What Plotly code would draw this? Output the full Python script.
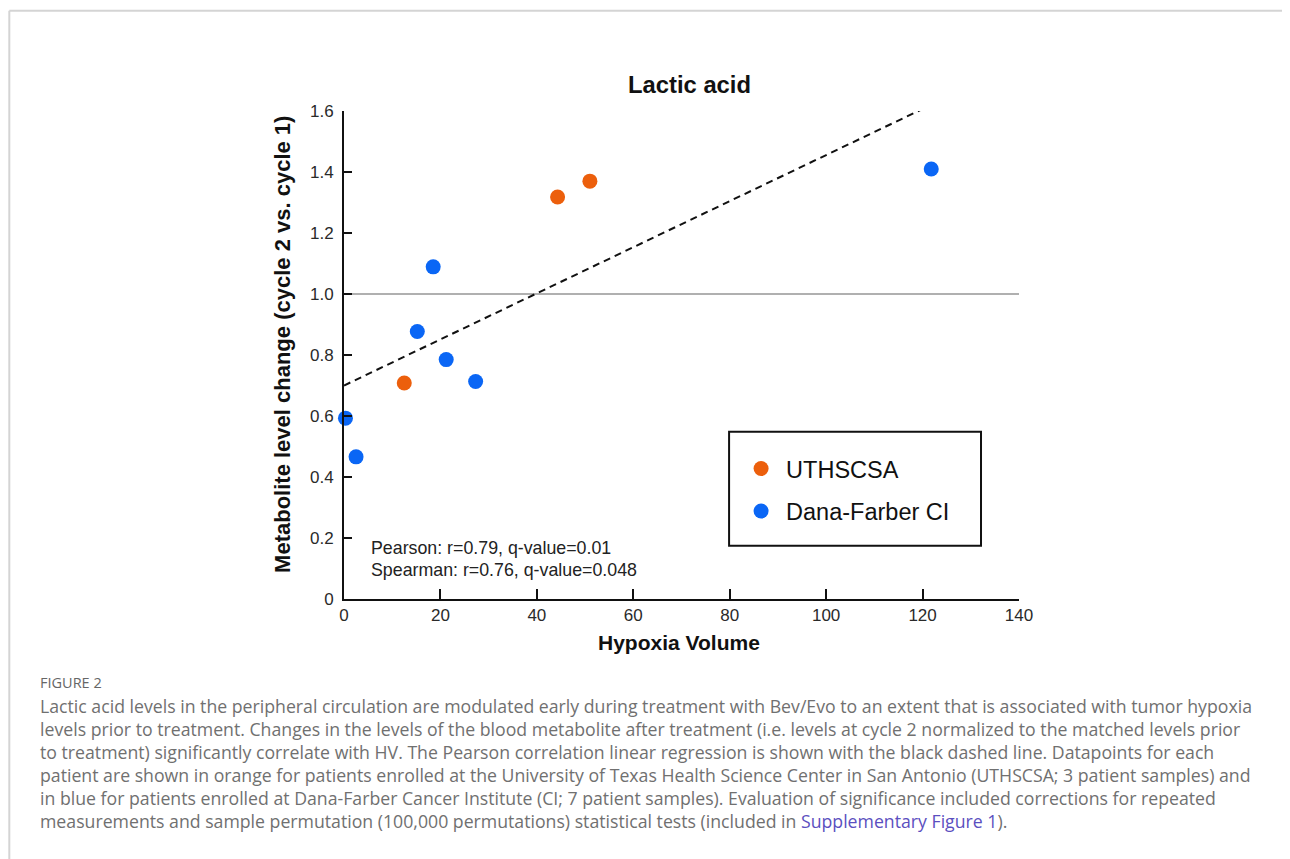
import plotly.graph_objects as go

# ---------------- data ----------------
uth_x = [12.5, 44.3, 51.0]
uth_y = [0.708, 1.318, 1.370]
dfci_x = [0.3, 2.5, 15.2, 18.5, 21.2, 27.3, 121.8]
dfci_y = [0.593, 0.466, 0.877, 1.089, 0.785, 0.713, 1.410]
fit_x = [0, 121.5]
fit_y = [0.70, 1.618]
ref_x = [0, 140]
ref_y = [1.0, 1.0]
x_ticks = [0, 20, 40, 60, 80, 100, 120, 140]
y_ticks = [0, 0.2, 0.4, 0.6, 0.8, 1.0, 1.2, 1.4, 1.6]
y_ticktext = ["0", "0.2", "0.4", "0.6", "0.8", "1.0", "1.2", "1.4", "1.6"]
caption_lines = [
    "Lactic acid levels in the peripheral circulation are modulated early during treatment with Bev/Evo to an extent that is associated with tumor hypoxia",
    "levels prior to treatment. Changes in the levels of the blood metabolite after treatment (i.e. levels at cycle 2 normalized to the matched levels prior",
    "to treatment) significantly correlate with HV. The Pearson correlation linear regression is shown with the black dashed line. Datapoints for each",
    "patient are shown in orange for patients enrolled at the University of Texas Health Science Center in San Antonio (UTHSCSA; 3 patient samples) and",
    "in blue for patients enrolled at Dana-Farber Cancer Institute (CI; 7 patient samples). Evaluation of significance included corrections for repeated",
    "measurements and sample permutation (100,000 permutations) statistical tests (included in <span style='color:#5b4fc0'>Supplementary Figure 1</span>).",
]

# page offset of the plot div (default body margin)
OFF = 8
W, H = 1290 - OFF, 859 - OFF
L, R, T, B = 343.8 - OFF, 1019.0 - OFF, 111.3 - OFF, 599.3 - OFF

def px(x):
    return (x - OFF - L) / (R - L)

def py(y):
    return (B - (y - OFF)) / (B - T)

FONT = "Arial, Liberation Sans, sans-serif"
CAP_FONT = "Open Sans, Lato, sans-serif"
ORANGE = "#ec5f0c"
BLUE = "#0a66f5"

fig = go.Figure()
fig.add_trace(go.Scatter(x=ref_x, y=ref_y, mode="lines",
                         line=dict(color="#b0b0b0", width=2),
                         showlegend=False, hoverinfo="skip"))
fig.add_trace(go.Scatter(x=fit_x, y=fit_y, mode="lines",
                         line=dict(color="#111", width=2, dash="7px,5px"),
                         showlegend=False, hoverinfo="skip"))
fig.add_trace(go.Scatter(x=uth_x, y=uth_y, mode="markers", name="UTHSCSA",
                         marker=dict(color=ORANGE, size=15), cliponaxis=False,
                         legendgroup="a"))
fig.add_trace(go.Scatter(x=dfci_x, y=dfci_y, mode="markers", name="Dana-Farber CI",
                         marker=dict(color=BLUE, size=15), cliponaxis=False,
                         legendgroup="b"))

fig.update_xaxes(range=[0, 140], tickvals=x_ticks, showgrid=False, zeroline=False,
                 showline=True, linecolor="#111", linewidth=2,
                 ticks="inside", ticklen=10, tickwidth=2, tickcolor="#111",
                 tickfont=dict(family=FONT, size=17, color="#2a2a2a"))
fig.update_yaxes(range=[0, 1.6], tickvals=y_ticks, ticktext=y_ticktext,
                 showgrid=False, zeroline=False,
                 showline=True, linecolor="#111", linewidth=2,
                 ticks="inside", ticklen=8, tickwidth=2, tickcolor="#111",
                 ticklabelstandoff=5,
                 tickfont=dict(family=FONT, size=17, color="#2a2a2a"))

ann = [
    dict(x=px(689), y=py(85), text="<b>Lactic acid</b>", font=dict(family=FONT, size=23.8, color="#111")),
    dict(x=px(679), y=py(643), text="<b>Hypoxia Volume</b>", font=dict(family=FONT, size=21, color="#111")),
    dict(x=px(282), y=py(345), text="<b>Metabolite level change (cycle 2 vs. cycle 1)</b>", textangle=-90,
         font=dict(family=FONT, size=22, color="#111")),
    dict(x=px(369), y=py(548), xanchor="left", text="Pearson: r=0.79, q-value=0.01",
         font=dict(family=FONT, size=17.8, color="#222")),
    dict(x=px(369), y=py(570), xanchor="left", text="Spearman: r=0.76, q-value=0.048",
         font=dict(family=FONT, size=17.8, color="#222")),
    dict(x=px(38), y=py(683), xanchor="left", text="FIGURE 2",
         font=dict(family=CAP_FONT, size=14.5, color="#666")),
]
for i, line in enumerate(caption_lines):
    ann.append(dict(x=px(38), y=py(706 + i * 23), xanchor="left", text=line,
                    font=dict(family=CAP_FONT, size=17.7, color="#707070")))
for a in ann:
    a.setdefault("xanchor", "center")
    a.update(xref="paper", yref="paper", yanchor="middle", showarrow=False)

shapes = [
    dict(type="rect", xref="paper", yref="paper", x0=px(729), x1=px(981), y0=py(546), y1=py(432),
         line=dict(color="#111", width=2), fillcolor="rgba(0,0,0,0)"),
    dict(type="line", xref="paper", yref="paper", x0=px(9), x1=px(1300), y0=py(11), y1=py(11),
         line=dict(color="#d4d4d4", width=2)),
    dict(type="line", xref="paper", yref="paper", x0=px(9), x1=px(9), y0=py(11), y1=py(870),
         line=dict(color="#d4d4d4", width=2)),
]

fig.update_layout(
    width=W, height=H,
    margin=dict(l=L, r=W - R, t=T, b=H - B, autoexpand=False),
    paper_bgcolor="white", plot_bgcolor="white",
    annotations=ann, shapes=shapes,
    legend=dict(x=px(736), y=py(447), xanchor="left", yanchor="top",
                font=dict(family=FONT, size=23.5, color="#111"),
                itemwidth=40,
                bgcolor="rgba(0,0,0,0)", borderwidth=0, tracegroupgap=9),
    showlegend=True,
)

fig.write_html("out.html")
